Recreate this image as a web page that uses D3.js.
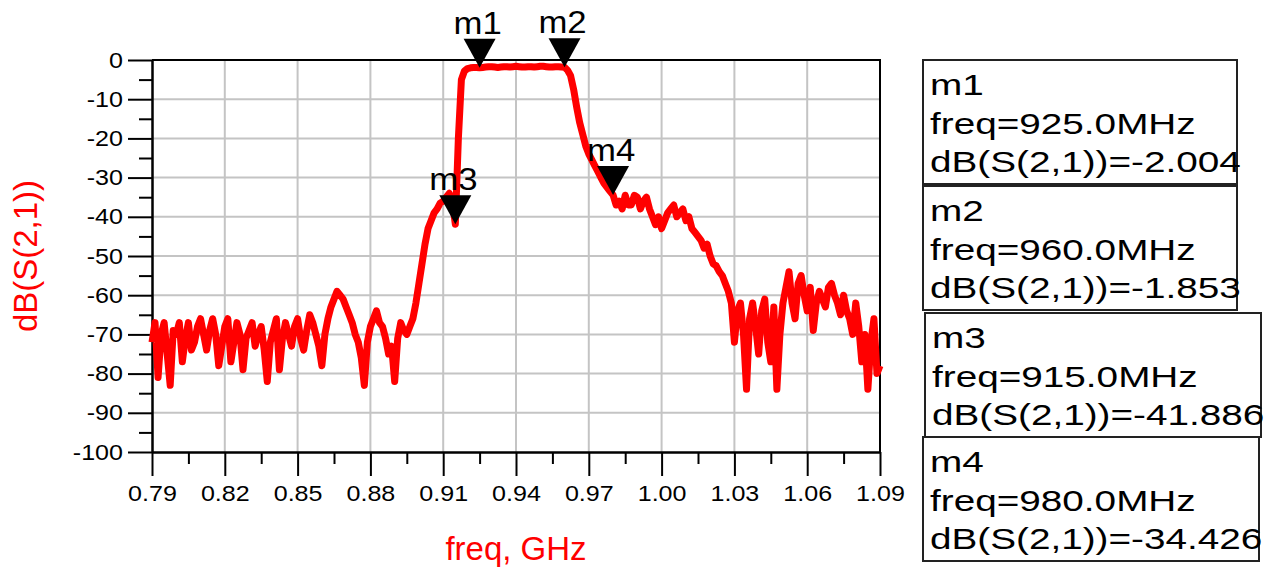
<!DOCTYPE html>
<html lang="en">
  <head>
    <meta charset="UTF-8" />
    <title>dB(S(2,1)) vs freq</title>
    <script src="https://d3js.org/d3.v7.min.js"></script>
    <style>
      body {
        margin: 0;
        background: #fff;
      }
      svg text {
        font-family: Arial, "Liberation Sans", sans-serif;
      }
      .grid line {
        stroke: #c4c4c4;
        stroke-width: 2px;
      }
      .axis path,
      .axis line {
        stroke: #000;
        stroke-width: 2px;
      }
      .axis text {
        font-size: 22px;
        fill: #000;
      }
    </style>
  </head>
  <body>
    <svg width="1284" height="571"></svg>

    <script>
      // sweep: 0.79 GHz .. 1.09 GHz, 1.25 MHz step
      const sweepStart = 0.79;
      const sweepStep = 0.00125;
      const s21dB = [
        -72, -67, -81, -70, -67, -75, -83, -69, -70, -67, -77, -71, -67, -74, -72, -68, -66, -70, -74, -69,
        -66, -70, -78, -73, -68, -66, -77, -72, -67, -70, -79, -71, -69, -67, -73, -70, -68, -74, -82, -72,
        -69, -66, -79, -71, -67, -70, -73, -68, -66, -71, -74, -69, -65, -67, -70, -73, -78, -70, -66, -63,
        -61, -59, -60, -61, -63, -65, -67, -70, -72, -76, -83, -72, -68, -66, -64, -67, -68, -71, -75, -73,
        -82, -71, -67, -69, -70, -68, -66, -62, -57, -52, -47, -43, -41, -39, -38, -36.5, -36, -35, -34, -36,
        -41.886, -20, -5, -2.8, -2.2, -2, -1.9, -1.9, -2.004, -1.9, -1.8, -1.7, -1.7, -1.8, -1.9, -1.8, -1.7, -1.7, -1.8, -1.7,
        -1.6, -1.7, -1.8, -1.8, -1.7, -1.7, -1.8, -1.7, -1.6, -1.6, -1.7, -1.8, -1.8, -1.7, -1.7, -1.8, -1.853, -2.6, -4, -7.5,
        -12, -16, -19, -22, -24, -25.5, -27, -28.5, -30, -31.5, -32.5, -33.5, -34.426, -37, -36, -38, -34.5, -37, -37, -34.5,
        -35, -38, -36, -35, -38, -40, -42, -40, -43, -41, -39, -38, -37, -40, -39, -38, -41, -40, -43, -44,
        -45, -46, -48, -47, -50, -52, -52.5, -54, -55, -57, -59, -62, -72, -64, -62, -70, -84, -66, -62, -68,
        -75, -64, -61, -72, -77, -63, -84, -70, -62, -58, -54, -62, -66, -57, -55, -60, -64, -58, -69, -62,
        -59, -61, -63, -58, -57, -60, -62, -65, -60, -64, -66, -70, -62, -68, -77, -70, -84, -72, -66, -80,
        -78,
      ];

      const xTicks = [0.79, 0.82, 0.85, 0.88, 0.91, 0.94, 0.97, 1.0, 1.03, 1.06, 1.09];
      const yTicks = [0, -10, -20, -30, -40, -50, -60, -70, -80, -90, -100];

      // markers
      const markerNames = ["m1", "m2", "m3", "m4"];
      const markerFreqMHz = [925.0, 960.0, 915.0, 980.0];
      const markerDb = [-2.004, -1.853, -41.886, -34.426];

      // marker readout boxes [left, top, right, bottom]
      const boxLayout = [
        [923, 60, 1237, 184],
        [923, 186, 1237, 310],
        [925, 313, 1261, 437],
        [923, 437, 1259, 561],
      ];

      const points = s21dB.map((v, i) => ({ f: sweepStart + i * sweepStep, db: v }));

      const svg = d3.select("svg");
      const plotL = 152, plotR = 880, plotT = 60, plotB = 452;

      const x = d3.scaleLinear().domain([0.79, 1.09]).range([plotL, plotR]);
      const y = d3.scaleLinear().domain([-100, 0]).range([plotB, plotT]);

      // make text a little wider, as in the original plot
      function stretch(sel, k) {
        sel.each(function () {
          const w = this.getComputedTextLength();
          d3.select(this).attr("textLength", w * k).attr("lengthAdjust", "spacingAndGlyphs");
        });
      }

      svg.append("rect").attr("width", 1284).attr("height", 571).attr("fill", "#fff");

      // grid
      const grid = svg.append("g").attr("class", "grid");
      grid
        .selectAll("line.gx")
        .data(xTicks.slice(1, -1))
        .enter()
        .append("line")
        .attr("x1", (d) => x(d))
        .attr("x2", (d) => x(d))
        .attr("y1", plotT)
        .attr("y2", plotB);
      grid
        .selectAll("line.gy")
        .data(yTicks.slice(1, -1))
        .enter()
        .append("line")
        .attr("x1", plotL)
        .attr("x2", plotR)
        .attr("y1", (d) => y(d))
        .attr("y2", (d) => y(d));

      // frame top / right
      svg
        .append("path")
        .attr("d", `M${plotL},${plotT}H${plotR}V${plotB}`)
        .attr("fill", "none")
        .attr("stroke", "#000")
        .attr("stroke-width", 2);

      // minor ticks
      const xMinor = xTicks.slice(0, -1).map((d, i) => (d + xTicks[i + 1]) / 2);
      const yMinor = yTicks.slice(0, -1).map((d, i) => (d + yTicks[i + 1]) / 2);

      svg
        .append("g")
        .attr("class", "axis")
        .attr("transform", `translate(0,${plotB})`)
        .call(d3.axisBottom(x).tickValues(xMinor).tickSize(12).tickSizeOuter(0).tickFormat(""));
      svg
        .append("g")
        .attr("class", "axis")
        .attr("transform", `translate(${plotL},0)`)
        .call(d3.axisLeft(y).tickValues(yMinor).tickSize(13).tickSizeOuter(0).tickFormat(""));

      // major axes
      svg
        .append("g")
        .attr("class", "axis")
        .attr("transform", `translate(0,${plotB})`)
        .call(
          d3.axisBottom(x).tickValues(xTicks).tickSize(24).tickSizeOuter(0).tickPadding(9).tickFormat(d3.format(".2f"))
        );
      svg
        .append("g")
        .attr("class", "axis")
        .attr("transform", `translate(${plotL},0)`)
        .call(
          d3.axisLeft(y).tickValues(yTicks).tickSize(24).tickSizeOuter(0).tickPadding(5).tickFormat((d) => String(d))
        );
      svg.selectAll(".axis text").call(stretch, 1.14);

      // axis titles
      svg
        .append("text")
        .attr("x", (plotL + plotR) / 2)
        .attr("y", 560)
        .attr("text-anchor", "middle")
        .attr("font-size", 33)
        .attr("fill", "#ff0000")
        .text("freq, GHz");
      svg
        .append("text")
        .attr("transform", `translate(37,${(plotT + plotB) / 2}) rotate(-90)`)
        .attr("text-anchor", "middle")
        .attr("font-size", 33)
        .attr("fill", "#ff0000")
        .text("dB(S(2,1))");

      // trace
      const line = d3
        .line()
        .x((d) => x(d.f))
        .y((d) => y(d.db));
      svg
        .append("path")
        .datum(points)
        .attr("d", line)
        .attr("fill", "none")
        .attr("stroke", "#ff0000")
        .attr("stroke-width", 7)
        .attr("stroke-linejoin", "round");

      // markers
      const markers = markerNames.map((n, i) => ({
        name: n,
        f: markerFreqMHz[i] / 1000,
        mhz: markerFreqMHz[i],
        db: markerDb[i],
        box: boxLayout[i],
      }));

      const mk = svg
        .append("g")
        .selectAll("g")
        .data(markers)
        .enter()
        .append("g")
        .attr("transform", (d) => `translate(${x(d.f)},${y(d.db)})`);
      mk.append("path").attr("d", "M-16,-29L16,-29L0,0Z").attr("fill", "#000");
      mk.append("text")
        .attr("x", -2)
        .attr("y", -34)
        .attr("text-anchor", "middle")
        .attr("font-size", 31)
        .attr("fill", "#000")
        .text((d) => d.name)
        .call(stretch, 1.12);

      // readout boxes
      const bx = svg
        .append("g")
        .selectAll("g")
        .data(markers)
        .enter()
        .append("g");
      bx.append("rect")
        .attr("x", (d) => d.box[0])
        .attr("y", (d) => d.box[1])
        .attr("width", (d) => d.box[2] - d.box[0])
        .attr("height", (d) => d.box[3] - d.box[1])
        .attr("fill", "none")
        .attr("stroke", "#222")
        .attr("stroke-width", 2);
      const lines = (d) => [d.name, `freq=${d.mhz.toFixed(1)}MHz`, `dB(S(2,1))=${d.db.toFixed(3)}`];
      bx.each(function (d) {
        d3.select(this)
          .selectAll("text")
          .data(lines(d))
          .enter()
          .append("text")
          .attr("x", d.box[0] + 7)
          .attr("y", (t, i) => d.box[1] + 35 + i * 38.5)
          .attr("font-size", 30)
          .attr("fill", "#000")
          .text((t) => t)
          .call(stretch, 1.29);
      });
    </script>
  </body>
</html>
